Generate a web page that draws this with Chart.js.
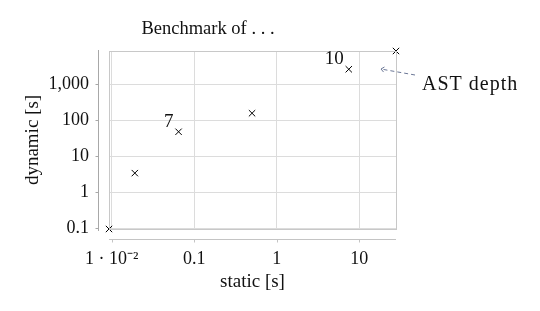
<!DOCTYPE html>
<html>
<head>
<meta charset="utf-8">
<script src="https://cdn.jsdelivr.net/npm/chart.js@4"></script>
<style>
html,body{margin:0;padding:0;background:#fff;}
#c{display:block;}
</style>
</head>
<body>
<canvas id="c" width="540" height="311"></canvas>
<script>
// ---- data ----
const staticTimes  = [0.0093, 0.0191, 0.0647, 0.502, 7.45, 27.8];
const dynamicTimes = [0.094, 3.37, 47.6, 156, 2610, 8400];
const pointLabels  = ['', '', '7', '', '10', ''];
const xTickValues  = [0.01, 0.1, 1, 10];
const xTickLabels  = ['1 · 10⁻²', '0.1', '1', '10'];
const yTickValues  = [0.1, 1, 10, 100, 1000];
const yTickLabels  = ['0.1', '1', '10', '100', '1,000'];
const titleText = 'Benchmark of . . .';
const xTitle = 'static [s]';
const yTitle = 'dynamic [s]';
const annotationText = 'AST depth';

const FONT = '"Liberation Serif", "Times New Roman", serif';
const points = staticTimes.map((x, i) => ({x, y: dynamicTimes[i]}));

const decor = {
  id: 'decor',
  afterDraw(chart) {
    const {ctx, chartArea: a, scales: {x, y}} = chart;
    ctx.save();
    // frame
    ctx.strokeStyle = '#c8c8c8';
    ctx.lineWidth = 1;
    ctx.strokeRect(Math.round(a.left) + 0.5, Math.round(a.top) + 0.5,
                   Math.round(a.right - a.left), Math.round(a.bottom - a.top));
    // separated axis lines
    ctx.strokeStyle = '#a8a8a8';
    const yl = Math.round(a.left) - 10.5;
    ctx.beginPath();
    ctx.moveTo(yl, a.top - 1); ctx.lineTo(yl, a.bottom + 2);
    yTickValues.forEach(v => {
      const p = Math.round(y.getPixelForValue(v)) + 0.5;
      ctx.moveTo(yl - 3, p); ctx.lineTo(yl, p);
    });
    ctx.stroke();
    const xl = Math.round(a.bottom) + 10.5;
    ctx.strokeStyle = '#c4c4c4';
    ctx.beginPath();
    ctx.moveTo(a.left, xl); ctx.lineTo(a.right, xl);
    xTickValues.forEach(v => {
      const p = Math.round(x.getPixelForValue(v)) + 0.5;
      ctx.moveTo(p, xl); ctx.lineTo(p, xl + 3);
    });
    ctx.stroke();
    // title
    ctx.fillStyle = '#111';
    ctx.font = '18.5px ' + FONT;
    ctx.textAlign = 'center';
    ctx.textBaseline = 'middle';
    ctx.fillText(titleText, 208, 29);
    // point labels
    ctx.font = '19px ' + FONT;
    ctx.textAlign = 'right';
    ctx.textBaseline = 'alphabetic';
    points.forEach((pt, i) => {
      if (!pointLabels[i]) return;
      const px = x.getPixelForValue(pt.x), py = y.getPixelForValue(pt.y);
      ctx.fillText(pointLabels[i], px - 5, py - 5);
    });
    // annotation
    const tipX = a.right - 15, tipY = a.top + 18;
    const tailX = a.right + 19, tailY = a.top + 24;
    ctx.strokeStyle = '#6b7796';
    ctx.setLineDash([4, 3]);
    ctx.beginPath();
    ctx.moveTo(tailX, tailY); ctx.lineTo(tipX + 2, tipY + 0.4);
    ctx.stroke();
    ctx.setLineDash([]);
    const ang = Math.atan2(tailY - tipY, tailX - tipX);
    ctx.beginPath();
    ctx.moveTo(tipX + 4 * Math.cos(ang + 0.7), tipY + 4 * Math.sin(ang + 0.7));
    ctx.lineTo(tipX, tipY);
    ctx.lineTo(tipX + 4 * Math.cos(ang - 0.7), tipY + 4 * Math.sin(ang - 0.7));
    ctx.stroke();
    ctx.fillStyle = '#111';
    ctx.font = '20px ' + FONT;
    ctx.letterSpacing = '1px';
    ctx.textAlign = 'left';
    ctx.textBaseline = 'middle';
    ctx.fillText(annotationText, a.right + 26, a.top + 34);
    ctx.restore();
  }
};

new Chart(document.getElementById('c'), {
  type: 'scatter',
  data: {
    datasets: [{
      data: points,
      pointStyle: 'crossRot',
      pointRadius: 4.5,
      pointHoverRadius: 4.5,
      borderColor: '#000',
      backgroundColor: '#000',
      borderWidth: 1,
      showLine: false,
      clip: false
    }]
  },
  options: {
    responsive: false,
    animation: false,
    events: [],
    layout: {padding: {left: 0, right: 144, top: 51, bottom: 0}},
    plugins: {legend: {display: false}, title: {display: false}, tooltip: {enabled: false}},
    scales: {
      x: {
        type: 'logarithmic',
        min: Math.min(...staticTimes),
        max: Math.max(...staticTimes),
        afterBuildTicks: s => { s.ticks = xTickValues.map(v => ({value: v})); },
        afterFit: s => { s.height = 82; },
        grid: {color: '#dcdcdc', drawTicks: false},
        border: {display: false},
        ticks: {
          autoSkip: false, maxRotation: 0, padding: 19, color: '#111',
          font: {family: FONT, size: 18},
          callback: (v, i) => xTickLabels[i]
        },
        title: {display: true, text: xTitle, color: '#111',
                font: {family: FONT, size: 19}, padding: {top: 0, bottom: 18}}
      },
      y: {
        type: 'logarithmic',
        min: Math.min(...dynamicTimes),
        max: Math.max(...dynamicTimes),
        afterBuildTicks: s => { s.ticks = yTickValues.map(v => ({value: v})); },
        afterFit: s => { s.width = 109; },
        grid: {color: '#dcdcdc', drawTicks: false},
        border: {display: false},
        ticks: {
          autoSkip: false, padding: 20, color: '#111',
          font: {family: FONT, size: 18},
          callback: (v, i) => yTickLabels[i]
        },
        title: {display: true, text: yTitle, color: '#111',
                font: {family: FONT, size: 19}, padding: {top: 22, bottom: 0}}
      }
    }
  },
  plugins: [decor]
});
</script>
</body>
</html>
